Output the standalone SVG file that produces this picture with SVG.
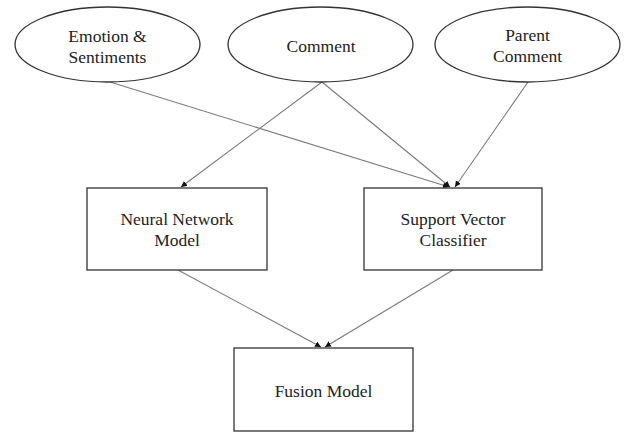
<svg xmlns="http://www.w3.org/2000/svg" width="624" height="433" viewBox="0 0 624 433">
<defs>
<style>
.node{fill:#fff;stroke:#333;stroke-width:1.3}
.lbl{font-family:'Liberation Serif','Times New Roman',Tinos,serif;font-size:17.5px;fill:#222;text-anchor:middle}
.edge{stroke:#7a7a7a;stroke-width:1.1;fill:none;marker-end:url(#arr)}
</style>
<marker id="arr" markerUnits="userSpaceOnUse" markerWidth="8" markerHeight="8" refX="6" refY="3" orient="auto">
<path d="M0,0 L6,3 L0,6 Z" fill="#111"/>
</marker>
</defs>
<rect width="624" height="433" fill="#fff"/>
<g id="connectors">
<line class="edge" x1="110" y1="82" x2="449" y2="187"/>
<line class="edge" x1="322" y1="82" x2="181" y2="187"/>
<line class="edge" x1="322" y1="82" x2="450" y2="187"/>
<line class="edge" x1="528" y1="82" x2="455" y2="187"/>
<line class="edge" x1="178" y1="270" x2="321" y2="347"/>
<line class="edge" x1="453" y1="270" x2="325" y2="347"/>
</g>
<g id="emotion">
<ellipse class="node" cx="107.5" cy="44.5" rx="92.5" ry="37.5"/>
<text class="lbl" font-family="'Liberation Serif', serif" x="107.5" y="42">Emotion &amp;</text>
<text class="lbl" font-family="'Liberation Serif', serif" x="107.5" y="63">Sentiments</text>
</g>
<g id="comment">
<ellipse class="node" cx="320.5" cy="44.5" rx="92.5" ry="37.5"/>
<text class="lbl" font-family="'Liberation Serif', serif" x="321" y="52">Comment</text>
</g>
<g id="parent">
<ellipse class="node" cx="527.5" cy="44.5" rx="92.5" ry="37.5"/>
<text class="lbl" font-family="'Liberation Serif', serif" x="527.5" y="41">Parent</text>
<text class="lbl" font-family="'Liberation Serif', serif" x="527.5" y="62">Comment</text>
</g>
<g id="nn">
<rect class="node" x="87" y="188" width="180" height="82"/>
<text class="lbl" font-family="'Liberation Serif', serif" x="177" y="225">Neural Network</text>
<text class="lbl" font-family="'Liberation Serif', serif" x="177" y="246">Model</text>
</g>
<g id="svc">
<rect class="node" x="364" y="188" width="178" height="82"/>
<text class="lbl" font-family="'Liberation Serif', serif" x="453" y="225">Support Vector</text>
<text class="lbl" font-family="'Liberation Serif', serif" x="453" y="246">Classifier</text>
</g>
<g id="fusion">
<rect class="node" x="234" y="348" width="179" height="83"/>
<text class="lbl" font-family="'Liberation Serif', serif" x="323.5" y="397">Fusion Model</text>
</g>
</svg>
